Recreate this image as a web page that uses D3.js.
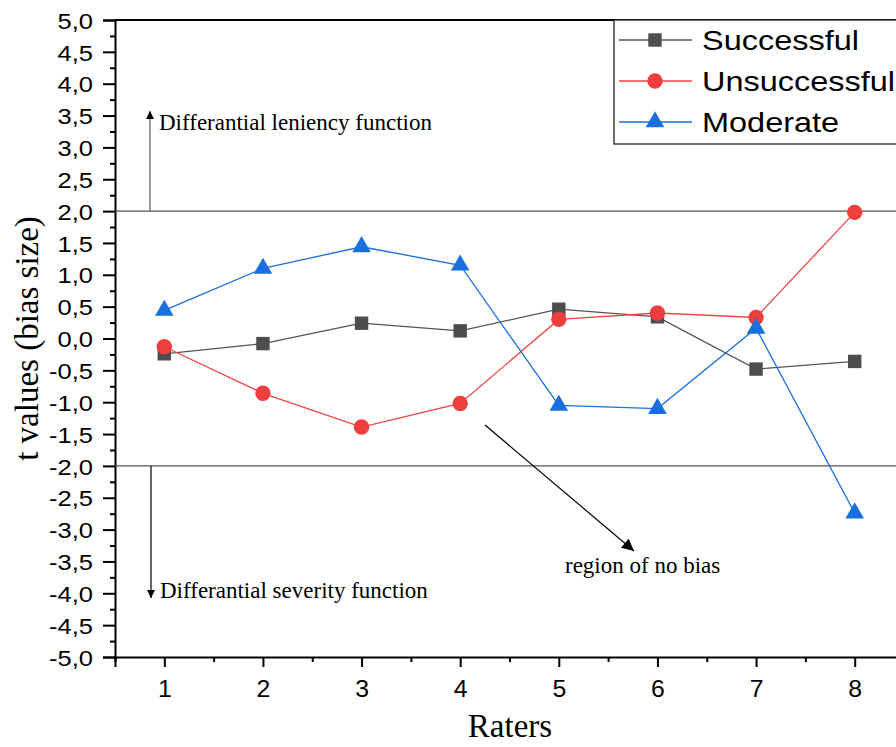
<!DOCTYPE html>
<html><head><meta charset="utf-8">
<script src="https://cdn.jsdelivr.net/npm/d3@7"></script>
<style>body{margin:0;background:#fff}svg{display:block}</style>
</head><body>
<svg id="c" width="896" height="747"></svg>
<script>
const raters = [1,2,3,4,5,6,7,8];
const successful = [-0.24,-0.08,0.24,0.12,0.46,0.34,-0.48,-0.36];
const unsuccessful = [-0.13,-0.86,-1.39,-1.02,0.30,0.40,0.33,1.98];
const moderate = [0.44,1.10,1.44,1.15,-1.05,-1.10,0.16,-2.74];
const seriesNames = ["Successful","Unsuccessful","Moderate"];
const yTicks = d3.range(-5,5.001,0.5);
const refLines = [2,-2];

const svg = d3.select("#c");
const x = d3.scaleLinear().domain([0.5,8.5]).range([115,904]);
const y = d3.scaleLinear().domain([-5,5]).range([657,20]);
const fmt = v => d3.format(".1f")(v).replace(".",",").replace("−","-");
const sans = "Arial, 'Liberation Sans', sans-serif";
const serif = "'Liberation Serif','Times New Roman',serif";

// y axis
const yAxis = d3.axisLeft(y).tickValues(yTicks).tickSize(12).tickFormat(fmt);
const gy = svg.append("g").attr("transform","translate(115,0)").call(yAxis);
gy.select(".domain").attr("stroke","#000").attr("stroke-width",2);
gy.selectAll(".tick line").attr("stroke-width",2);
gy.selectAll("text").attr("font-family",sans).attr("font-size",22).attr("fill","#000")
  .attr("transform","scale(1.16,1)").attr("x",-22/1.16).attr("dy","0.37em");
const gym = svg.append("g").attr("transform","translate(115,0)")
  .call(d3.axisLeft(y).tickValues(d3.range(-4.75,5,0.5)).tickSize(5).tickFormat(""));
gym.select(".domain").remove();
gym.selectAll(".tick line").attr("stroke-width",2);

// x axis
const gx = svg.append("g").attr("transform","translate(0,657)")
  .call(d3.axisBottom(x).tickValues(raters).tickSize(10).tickFormat(d3.format("d")));
gx.select(".domain").attr("stroke","#000").attr("stroke-width",2);
gx.selectAll(".tick line").attr("stroke-width",2);
gx.selectAll("text").attr("font-family",sans).attr("font-size",23).attr("fill","#000")
  .attr("transform","scale(1.08,1)").attr("y",24).attr("dy","0.71em");
const gxm = svg.append("g").attr("transform","translate(0,657)")
  .call(d3.axisBottom(x).tickValues(d3.range(0.5,9,1)).tickSize(5).tickFormat(""));
gxm.select(".domain").remove();
gxm.selectAll(".tick line").attr("stroke-width",2);

// top frame
svg.append("line").attr("x1",x(0.5)).attr("x2",896).attr("y1",y(5)).attr("y2",y(5)).attr("stroke","#000").attr("stroke-width",2);

// reference lines
svg.selectAll(".ref").data(refLines).enter().append("line")
  .attr("x1",x(0.5)).attr("x2",896).attr("y1",d=>y(d)).attr("y2",d=>y(d))
  .attr("stroke","#555").attr("stroke-width",1.3);

// arrows
const defs = svg.append("defs");
defs.append("marker").attr("id","ah").attr("viewBox","0 0 10 10").attr("refX",10).attr("refY",5)
  .attr("markerWidth",15).attr("markerHeight",8).attr("markerUnits","userSpaceOnUse").attr("orient","auto")
  .append("path").attr("d","M0,0 L10,5 L0,10 z").attr("fill","#000");
defs.append("marker").attr("id","ah2").attr("viewBox","0 0 10 10").attr("refX",10).attr("refY",5)
  .attr("markerWidth",18).attr("markerHeight",12).attr("markerUnits","userSpaceOnUse").attr("orient","auto")
  .append("path").attr("d","M0,0 L10,5 L0,10 z").attr("fill","#000");

svg.append("line").attr("x1",150).attr("x2",150).attr("y1",y(2)).attr("y2",111)
  .attr("stroke","#777").attr("stroke-width",1.5).attr("marker-end","url(#ah)");
svg.append("line").attr("x1",151).attr("x2",151).attr("y1",y(-2)).attr("y2",598)
  .attr("stroke","#000").attr("stroke-width",1.2).attr("marker-end","url(#ah)");
svg.append("line").attr("x1",485).attr("y1",425).attr("x2",634).attr("y2",551)
  .attr("stroke","#000").attr("stroke-width",1.2).attr("marker-end","url(#ah2)");

svg.append("text").attr("x",159).attr("y",130).attr("font-family",serif).attr("font-size",23).text("Differantial leniency function");
svg.append("text").attr("x",160).attr("y",598).attr("font-family",serif).attr("font-size",23).text("Differantial severity function");
svg.append("text").attr("x",565).attr("y",573).attr("font-family",serif).attr("font-size",23).text("region of no bias");

// axis titles
svg.append("text").attr("x",510).attr("y",737).attr("text-anchor","middle").attr("font-family",serif).attr("font-size",33).text("Raters");
svg.append("text").attr("transform","translate(38,"+y(0)+") rotate(-90)").attr("text-anchor","middle").attr("font-family",serif).attr("font-size",33).text("t values (bias size)");

// series
const series = [
  {name:seriesNames[0], vals:successful, line:"#555555", fill:"#4d4d4d", sym:d3.symbolSquare, size:180},
  {name:seriesNames[1], vals:unsuccessful, line:"#f04545", fill:"#ef3e3e", sym:d3.symbolCircle, size:185},
  {name:seriesNames[2], vals:moderate, line:"#1a6fdf", fill:"#1a6fdf", sym:d3.symbolTriangle, size:150}
];
const lineGen = d3.line().x((d,i)=>x(raters[i])).y(d=>y(d));
series.forEach(s=>{
  svg.append("path").attr("d",lineGen(s.vals)).attr("fill","none").attr("stroke",s.line).attr("stroke-width",1.3);
});
series.forEach(s=>{
  svg.selectAll(null).data(s.vals).enter().append("path")
    .attr("d",d3.symbol(s.sym,s.size)())
    .attr("transform",(d,i)=>"translate("+x(raters[i])+","+y(d)+")")
    .attr("fill",s.fill);
});

// legend
const lg = svg.append("g");
lg.append("rect").attr("x",614).attr("y",20).attr("width",300).attr("height",124).attr("fill","#fff").attr("stroke","#222").attr("stroke-width",1.3);
series.forEach((s,i)=>{
  const cy = 40 + i*41;
  lg.append("line").attr("x1",619).attr("x2",692).attr("y1",cy).attr("y2",cy).attr("stroke",s.line).attr("stroke-width",1.3);
  lg.append("path").attr("d",d3.symbol(s.sym,s.size)()).attr("transform","translate(655,"+cy+")").attr("fill",s.fill);
  lg.append("text").attr("transform","translate(702,"+cy+") scale(1.16,1)").attr("dy","0.36em").attr("font-family",sans).attr("font-size",28).text(s.name);
});
</script>
</body></html>
